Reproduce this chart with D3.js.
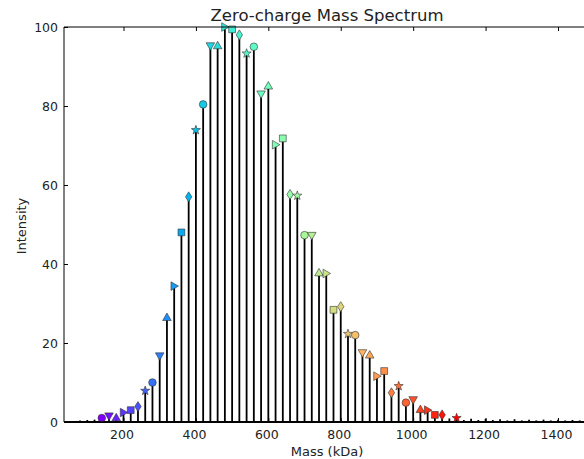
<!DOCTYPE html>
<html><head><meta charset="utf-8">
<script src="https://cdn.jsdelivr.net/npm/d3@7"></script>
<style>body{margin:0;background:#fff}svg{display:block}text{font-family:"DejaVu Sans",sans-serif;fill:#222}</style>
</head><body><div id="chart"></div>
<script>
const title = "Zero-charge Mass Spectrum";
const xLabel = "Mass (kDa)";
const yLabel = "Intensity";
const xTicks = [200,400,600,800,1000,1200,1400];
const yTicks = [0,20,40,60,80,100];

// peaks with markers
const markedMass = [140,160,180,200,220,240,260,280,300,320,340,360,380,400,420,440,460,480,500,520,540,560,580,600,620,640,660,680,700,720,740,760,780,800,820,840,860,880,900,920,940,960,980,1000,1020,1040,1060,1080,1120];
const markedIntensity = [1.0,1.5,1.1,2.4,3.0,3.9,7.9,10.0,16.7,26.5,34.4,48.0,57.0,73.9,80.4,95.2,95.3,100,99.4,98.0,93.3,95.0,83.0,85.1,70.2,71.8,57.6,57.3,47.3,47.2,37.8,37.6,28.4,29.2,22.3,22.0,17.5,17.0,11.6,12.9,7.4,9.1,4.9,5.6,3.2,3.0,1.8,1.8,1.0];
const markedShape = ["o","v","^",">","s","d","*","o","v","^",">","s","d","*","o","v","^",">","s","d","*","o","v","^",">","s","d","*","o","v","^",">","s","d","*","o","v","^",">","s","d","*","o","v","^",">","s","d","*"];

// small stems without markers
const minorMass = [80,100,120,1100,1140,1160,1180,1200,1220,1240,1260,1280,1300,1320,1340,1360,1380,1400,1420,1440,1460,1480];
const minorIntensity = [0.4,0.5,0.6,0.9,0.5,0.8,0.5,0.8,0.5,0.7,0.4,0.7,0.4,0.6,0.4,0.6,0.4,0.6,0.4,0.5,0.4,0.5];

const W = 584, H = 459;
const svg = d3.select("#chart").append("svg").attr("width", W).attr("height", H);

const x = d3.scaleLinear().domain([35.7, 1488.4]).range([64, 590]);
const y = d3.scaleLinear().domain([0, 100]).range([422, 27]);

// matplotlib 'rainbow' colormap
function rainbow(t){
  const r = Math.min(1, Math.abs(2*t - 0.5));
  const g = Math.sin(Math.PI*t);
  const b = Math.cos(Math.PI/2*t);
  return d3.rgb(r*255, g*255, b*255).formatHex();
}

const plot = svg.append("g");

// stems
const stems = markedMass.map((m,i)=>({m, v: markedIntensity[i]}))
  .concat(minorMass.map((m,i)=>({m, v: minorIntensity[i]})));
plot.selectAll("line.stem").data(stems).join("line")
  .attr("class","stem")
  .attr("x1", d=>x(d.m)).attr("x2", d=>x(d.m))
  .attr("y1", y(0)).attr("y2", d=>y(d.v))
  .attr("stroke","#000").attr("stroke-width",1.8);

// baseline
plot.append("line").attr("x1",64).attr("x2",590).attr("y1",y(0)).attr("y2",y(0))
  .attr("stroke","#000").attr("stroke-width",2);

// markers
function markerPath(s){
  const p = d3.path();
  if (s === "o") { p.arc(0,0,3.8,0,2*Math.PI); }
  else if (s === "s") { p.rect(-3.4,-3.4,6.8,6.8); }
  else if (s === "v") { p.moveTo(-4.3,-3.2); p.lineTo(4.3,-3.2); p.lineTo(0,4.3); p.closePath(); }
  else if (s === "^") { p.moveTo(-4.3,3.2); p.lineTo(4.3,3.2); p.lineTo(0,-4.3); p.closePath(); }
  else if (s === ">") { p.moveTo(-3.2,-4.3); p.lineTo(-3.2,4.3); p.lineTo(4.3,0); p.closePath(); }
  else if (s === "d") { p.moveTo(0,-5); p.lineTo(3.2,0); p.lineTo(0,5); p.lineTo(-3.2,0); p.closePath(); }
  else if (s === "*") {
    for (let k=0;k<10;k++){
      const a = -Math.PI/2 + k*Math.PI/5;
      const r = k%2===0 ? 4.8 : 1.9;
      const px = r*Math.cos(a), py = r*Math.sin(a);
      if (k===0) p.moveTo(px,py); else p.lineTo(px,py);
    }
    p.closePath();
  }
  return p.toString();
}
const n = markedMass.length;
plot.selectAll("path.mk").data(markedMass).join("path")
  .attr("class","mk")
  .attr("transform",(d,i)=>`translate(${x(d)},${y(markedIntensity[i])})`)
  .attr("d",(d,i)=>markerPath(markedShape[i]))
  .attr("fill",(d,i)=>rainbow(i/(n-1)))
  .attr("stroke","#333").attr("stroke-width",0.6);

// axes frame
const frame = svg.append("g").attr("fill","none").attr("stroke","#000").attr("stroke-width",1);
frame.append("line").attr("x1",64).attr("x2",64).attr("y1",27).attr("y2",422);
frame.append("line").attr("x1",64).attr("x2",590).attr("y1",27).attr("y2",27);
frame.append("line").attr("x1",64).attr("x2",590).attr("y1",422).attr("y2",422);

// x ticks (inward, bottom and top)
const xAxisB = d3.axisBottom(x).tickValues(xTicks).tickSizeInner(-4).tickSizeOuter(0).tickPadding(8).tickFormat(d3.format("d"));
const gxb = svg.append("g").attr("transform","translate(0,422)").call(xAxisB);
gxb.select(".domain").remove();
gxb.selectAll("text").attr("font-size",12.5).style("fill","#222").attr("dy","0.71em").attr("y",8).attr("dx",-2);
gxb.selectAll("line").attr("stroke","#000");
const xAxisT = d3.axisTop(x).tickValues(xTicks).tickSizeInner(-4).tickSizeOuter(0).tickFormat("");
const gxt = svg.append("g").attr("transform","translate(0,27)").call(xAxisT);
gxt.select(".domain").remove();
gxt.selectAll("line").attr("stroke","#000");

const yAxis = d3.axisLeft(y).tickValues(yTicks).tickSizeInner(-4).tickSizeOuter(0).tickPadding(8);
const gy = svg.append("g").attr("transform","translate(64,0)").call(yAxis);
gy.select(".domain").remove();
gy.selectAll("text").attr("font-size",12.5).style("fill","#222").attr("x",-6);
gy.selectAll("line").attr("stroke","#000");

svg.append("text").attr("x",327).attr("y",21).attr("text-anchor","middle").attr("font-size",16.5).text(title);
svg.append("text").attr("x",327).attr("y",456).attr("text-anchor","middle").attr("font-size",13).text(xLabel);
svg.append("text").attr("transform","translate(26,226) rotate(-90)").attr("text-anchor","middle").attr("font-size",13).text(yLabel);
</script></body></html>
